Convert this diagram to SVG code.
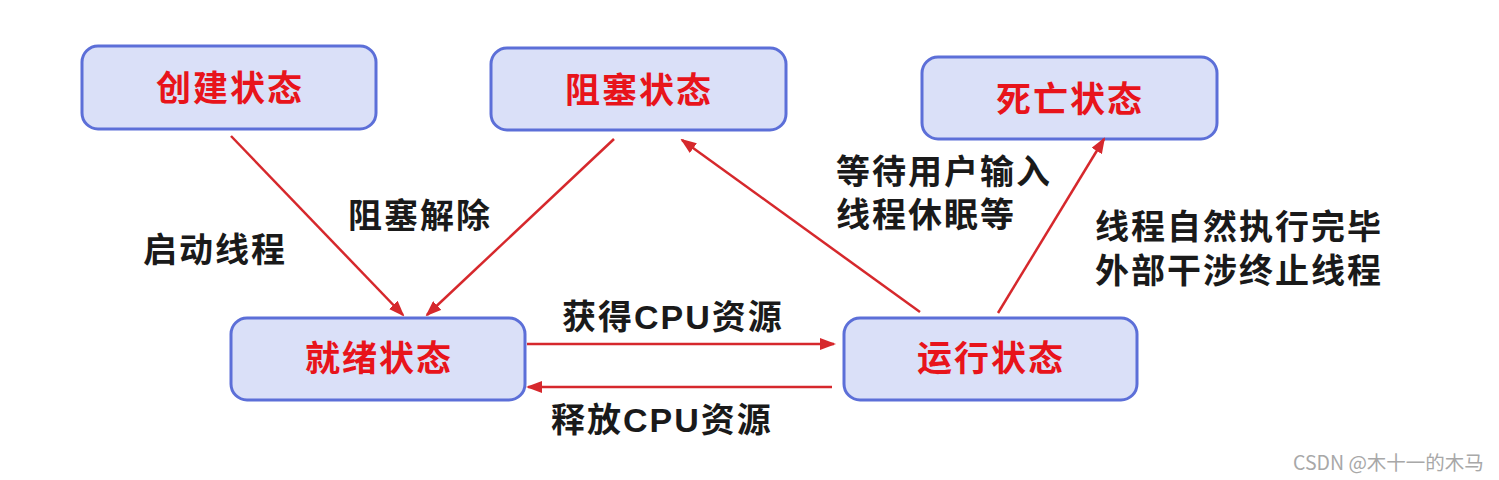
<svg xmlns="http://www.w3.org/2000/svg" width="1499" height="480" viewBox="0 0 1499 480">
<style>
.box{fill:#dae0f8;stroke:#5c6fd8;stroke-width:3}
.st{font-family:"Noto Sans CJK SC","Noto Sans",sans-serif;font-weight:bold;font-size:35px;letter-spacing:2px;fill:#e8141b;text-anchor:middle}
.lb{font-family:"Liberation Sans","Noto Sans CJK SC",sans-serif;font-weight:bold;font-size:34px;letter-spacing:2px;fill:#1a1a1a}
.ar{stroke:#d6282c;stroke-width:2.5;fill:none;marker-end:url(#ah)}
.wm{font-family:"Noto Sans CJK SC","Noto Sans",sans-serif;font-size:19.5px;fill:#a8a8a8}
</style>
<defs>
<marker id="ah" markerUnits="userSpaceOnUse" markerWidth="16" markerHeight="12" refX="14" refY="6" orient="auto">
<path d="M0,0 L16,6 L0,12 Z" fill="#d6282c"/>
</marker>
</defs>
<rect width="1499" height="480" fill="#ffffff"/>
<g id="create"><rect class="box" x="82" y="46" width="294" height="83" rx="16"/><text class="st" x="230" y="101">创建状态</text></g>
<g id="blocked"><rect class="box" x="491" y="48" width="295" height="82" rx="16"/><text class="st" x="639" y="103">阻塞状态</text></g>
<g id="dead"><rect class="box" x="922" y="57" width="295" height="82" rx="16"/><text class="st" x="1070" y="112">死亡状态</text></g>
<g id="ready"><rect class="box" x="231" y="318" width="294" height="82" rx="16"/><text class="st" x="379" y="371">就绪状态</text></g>
<g id="running"><rect class="box" x="844" y="318" width="293" height="82" rx="16"/><text class="st" x="991" y="371">运行状态</text></g>
<g id="connectors">
<line class="ar" x1="231" y1="136" x2="403" y2="315"/>
<line class="ar" x1="614" y1="139" x2="427" y2="315"/>
<line class="ar" x1="920" y1="312" x2="682" y2="140"/>
<line class="ar" x1="998" y1="313" x2="1104" y2="139"/>
<line class="ar" x1="527" y1="344" x2="834" y2="344"/>
<line class="ar" x1="832" y1="387" x2="528" y2="387"/>
</g>
<g id="labels">
<text class="lb" x="143" y="262">启动线程</text>
<text class="lb" x="348" y="228">阻塞解除</text>
<text class="lb" x="562" y="329">获得CPU资源</text>
<text class="lb" x="551" y="432">释放CPU资源</text>
<text class="lb"><tspan x="836" y="184">等待用户输入</tspan><tspan x="836" y="227">线程休眠等</tspan></text>
<text class="lb"><tspan x="1095" y="239">线程自然执行完毕</tspan><tspan x="1095" y="283">外部干涉终止线程</tspan></text>
</g>
<text class="wm" x="1293" y="470">CSDN @木十一的木马</text>
</svg>
